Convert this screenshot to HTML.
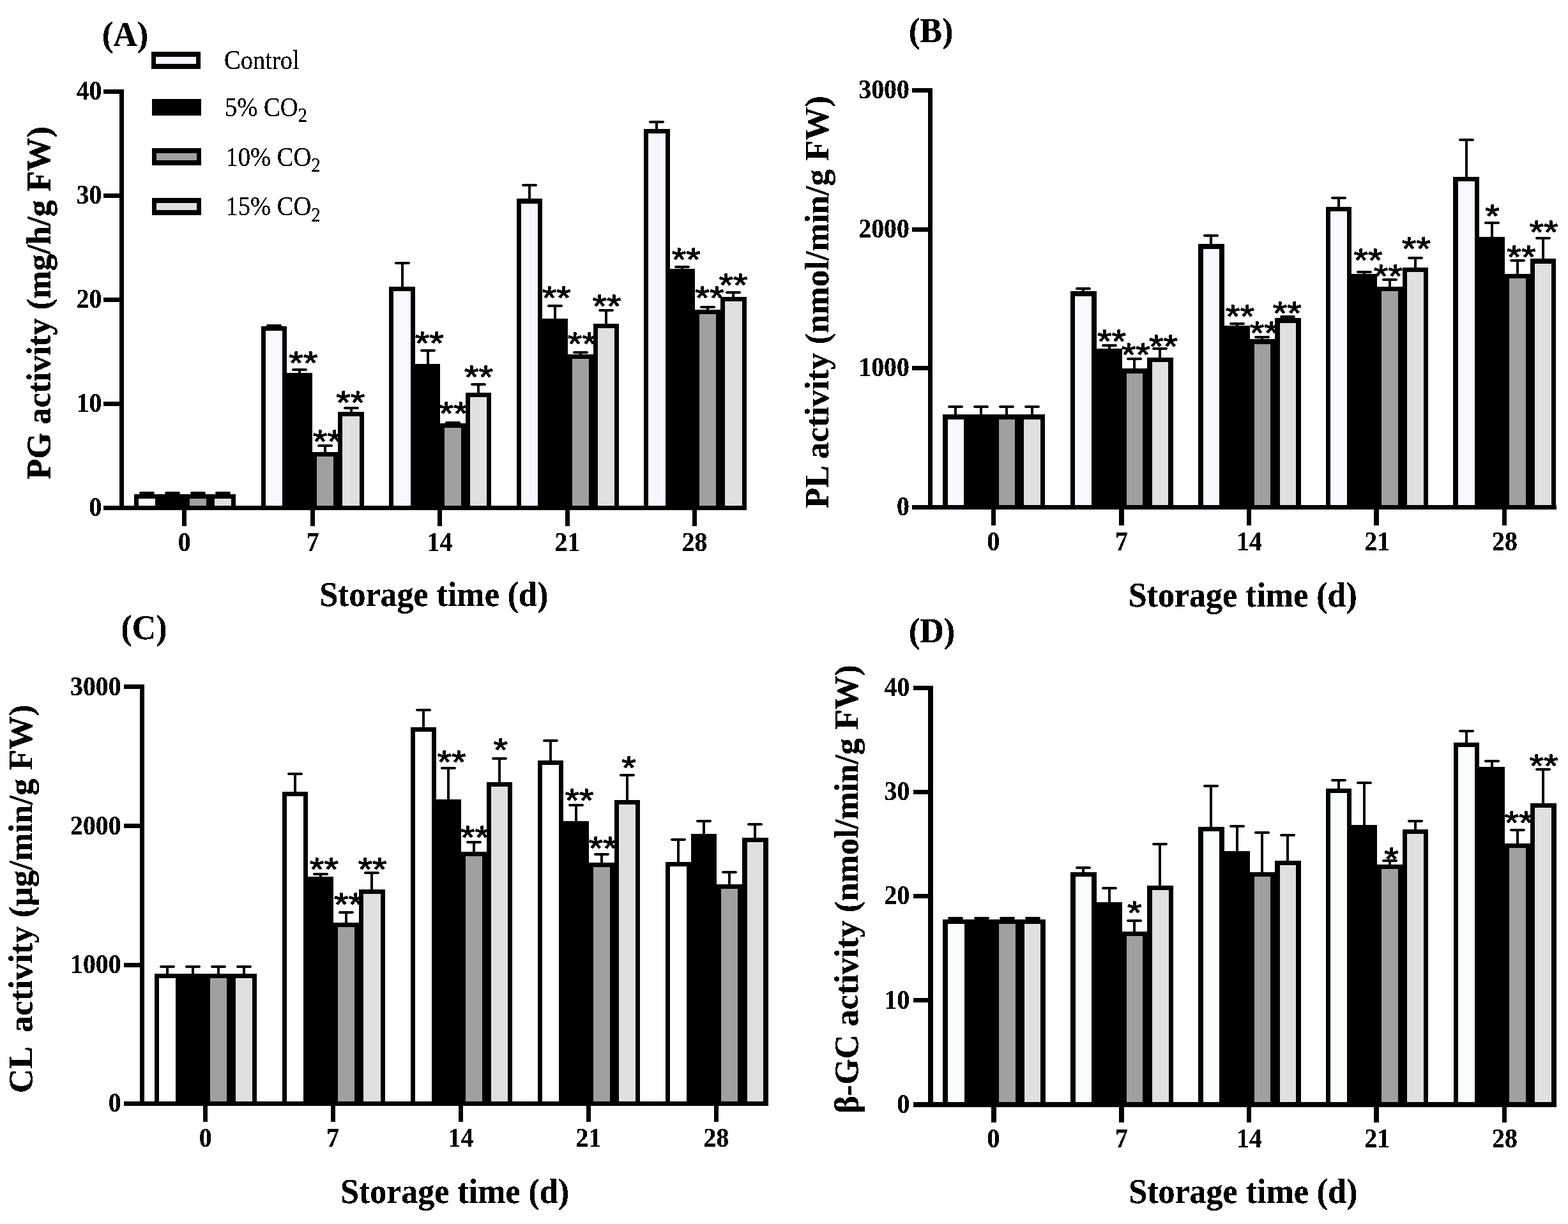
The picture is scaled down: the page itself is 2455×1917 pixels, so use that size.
<!DOCTYPE html>
<html lang="en"><head><meta charset="utf-8"><title>Enzyme activity during storage</title>
<style>html,body{margin:0;padding:0;background:#fff;}body{width:2455px;height:1917px;overflow:hidden;}svg{display:block;}.s{font-family:"Liberation Serif","Times New Roman",serif;font-weight:bold;fill:#000;}.r{font-family:"Liberation Serif","Times New Roman",serif;font-weight:normal;fill:#000;}.a{font-family:"Liberation Sans",Arial,sans-serif;fill:#000;}.c{shape-rendering:crispEdges;}</style></head><body>
<svg xmlns="http://www.w3.org/2000/svg" width="2455" height="1917" viewBox="0 0 2455 1917">
<defs><filter id="bw" filterUnits="userSpaceOnUse" x="0" y="0" width="2455" height="1917" color-interpolation-filters="sRGB"><feComponentTransfer><feFuncA type="discrete" tableValues="0 1 1"/></feComponentTransfer></filter></defs>
<rect x="0" y="0" width="2455" height="1917" fill="#fff"/>
<g id="panel-A">
<g class="a" filter="url(#bw)" font-size="58.0" stroke="#000" stroke-width="1.0" stroke-linejoin="round">
<text transform="translate(452.34,585.80) scale(1,0.877)">**</text>
<text transform="translate(489.84,709.40) scale(1,0.877)">**</text>
<text transform="translate(526.24,647.80) scale(1,0.877)">**</text>
<text transform="translate(649.74,555.20) scale(1,0.877)">**</text>
<text transform="translate(687.54,665.20) scale(1,0.877)">**</text>
<text transform="translate(726.94,608.00) scale(1,0.877)">**</text>
<text transform="translate(848.64,484.20) scale(1,0.877)">**</text>
<text transform="translate(888.84,555.80) scale(1,0.877)">**</text>
<text transform="translate(927.54,497.10) scale(1,0.877)">**</text>
<text transform="translate(1051.64,424.10) scale(1,0.877)">**</text>
<text transform="translate(1088.34,484.20) scale(1,0.877)">**</text>
<text transform="translate(1125.54,464.30) scale(1,0.877)">**</text>
</g>
<g filter="url(#bw)" stroke="#000" stroke-width="4.0" stroke-linecap="round" fill="none">
<path d="M220.3 772H239.7"/>
<path d="M260.3 772H279.7"/>
<path d="M300.3 772H319.7"/>
<path d="M339.3 772H358.7"/>
<path d="M419.3 510H438.7"/>
<path d="M459.3 579H478.7"/>
<path d="M499.3 698H518.7"/>
<path d="M540.3 639H559.7"/>
<path d="M620.3 412H639.7"/>
<path d="M660.3 549H679.7"/>
<path d="M699.3 662H718.7"/>
<path d="M739.3 602H758.7"/>
<path d="M819.3 290H838.7"/>
<path d="M859.3 479H878.7"/>
<path d="M899.3 552H918.7"/>
<path d="M939.3 486H958.7"/>
<path d="M1018.3 191H1037.7"/>
<path d="M1058.3 418H1077.7"/>
<path d="M1098.3 481H1117.7"/>
<path d="M1138.3 458H1157.7"/>
</g>
<g class="c" fill="#000"><rect x="228" y="772" width="4" height="3"/><rect x="268" y="772" width="4" height="3"/><rect x="308" y="772" width="4" height="3"/><rect x="347" y="772" width="4" height="3"/><rect x="467" y="579" width="4" height="6"/><rect x="507" y="698" width="4" height="11"/><rect x="548" y="639" width="4" height="7"/><rect x="628" y="412" width="4" height="38"/><rect x="668" y="549" width="4" height="22"/><rect x="707" y="662" width="4" height="2"/><rect x="747" y="602" width="4" height="14"/><rect x="827" y="290" width="4" height="22"/><rect x="867" y="479" width="4" height="21"/><rect x="907" y="552" width="4" height="4"/><rect x="947" y="486" width="4" height="22"/><rect x="1026" y="191" width="4" height="12"/><rect x="1066" y="418" width="4" height="4"/><rect x="1106" y="481" width="4" height="5"/><rect x="1146" y="458" width="4" height="8"/></g>
<g class="c">
<rect x="210" y="774" width="40" height="25" fill="#000"/>
<rect x="217" y="781" width="26" height="11" fill="#f8f8ff"/>
<rect x="250" y="774" width="40" height="25" fill="#000"/>
<rect x="290" y="774" width="40" height="25" fill="#000"/>
<rect x="297" y="781" width="26" height="11" fill="#a0a0a0"/>
<rect x="329" y="774" width="40" height="25" fill="#000"/>
<rect x="336" y="781" width="26" height="11" fill="#e0e0e0"/>
<rect x="409" y="511" width="40" height="288" fill="#000"/>
<rect x="416" y="518" width="26" height="274" fill="#f8f8ff"/>
<rect x="449" y="584" width="40" height="215" fill="#000"/>
<rect x="489" y="708" width="40" height="91" fill="#000"/>
<rect x="496" y="715" width="26" height="77" fill="#a0a0a0"/>
<rect x="529" y="645" width="41" height="154" fill="#000"/>
<rect x="536" y="652" width="27" height="140" fill="#e0e0e0"/>
<rect x="609" y="449" width="41" height="350" fill="#000"/>
<rect x="616" y="456" width="27" height="336" fill="#f8f8ff"/>
<rect x="650" y="570" width="39" height="229" fill="#000"/>
<rect x="689" y="663" width="40" height="136" fill="#000"/>
<rect x="696" y="670" width="26" height="122" fill="#a0a0a0"/>
<rect x="729" y="615" width="40" height="184" fill="#000"/>
<rect x="736" y="622" width="26" height="170" fill="#e0e0e0"/>
<rect x="809" y="311" width="40" height="488" fill="#000"/>
<rect x="816" y="319" width="26" height="473" fill="#f8f8ff"/>
<rect x="849" y="499" width="40" height="300" fill="#000"/>
<rect x="889" y="555" width="40" height="244" fill="#000"/>
<rect x="896" y="562" width="26" height="230" fill="#a0a0a0"/>
<rect x="929" y="507" width="40" height="292" fill="#000"/>
<rect x="936" y="514" width="26" height="278" fill="#e0e0e0"/>
<rect x="1008" y="202" width="41" height="597" fill="#000"/>
<rect x="1015" y="209" width="27" height="583" fill="#f8f8ff"/>
<rect x="1049" y="421" width="39" height="378" fill="#000"/>
<rect x="1088" y="485" width="40" height="314" fill="#000"/>
<rect x="1095" y="492" width="26" height="300" fill="#a0a0a0"/>
<rect x="1128" y="465" width="41" height="334" fill="#000"/>
<rect x="1135" y="472" width="27" height="320" fill="#e0e0e0"/>
</g>
<g class="c" fill="#000">
<rect x="187" y="140" width="7" height="659"/>
<rect x="162" y="792" width="1007" height="7"/>
<rect x="162" y="629" width="32" height="7"/>
<rect x="162" y="466" width="32" height="7"/>
<rect x="162" y="303" width="32" height="7"/>
<rect x="162" y="140" width="32" height="7"/>
<rect x="285" y="792" width="7" height="32"/>
<rect x="486" y="792" width="7" height="32"/>
<rect x="685" y="792" width="7" height="32"/>
<rect x="885" y="792" width="7" height="32"/>
<rect x="1084" y="792" width="7" height="32"/>
</g>
<g class="s" filter="url(#bw)" font-size="41">
<text transform="translate(159.40,808.20) scale(0.97,1.04)" text-anchor="end">0</text>
<text transform="translate(159.40,645.20) scale(0.97,1.04)" text-anchor="end">10</text>
<text transform="translate(159.40,482.10) scale(0.97,1.04)" text-anchor="end">20</text>
<text transform="translate(159.40,319.00) scale(0.97,1.04)" text-anchor="end">30</text>
<text transform="translate(159.40,156.15) scale(0.97,1.04)" text-anchor="end">40</text>
<text transform="translate(288.60,863.30) scale(0.97,1.04)" text-anchor="middle">0</text>
<text transform="translate(489.40,863.30) scale(0.97,1.04)" text-anchor="middle">7</text>
<text transform="translate(688.50,863.30) scale(0.97,1.04)" text-anchor="middle">14</text>
<text transform="translate(888.40,863.30) scale(0.97,1.04)" text-anchor="middle">21</text>
<text transform="translate(1087.60,863.30) scale(0.97,1.04)" text-anchor="middle">28</text>
</g>
<g class="s" filter="url(#bw)" font-size="52">
<text transform="translate(160.00,72.20) scale(1,1.05)">(A)</text>
<text transform="translate(500.20,948.80) scale(1,1.07)">Storage time (d)</text>
<text transform="translate(78.90,750.70) rotate(-90) scale(1.01,1.03)" xml:space="preserve">PG activity (mg/h/g FW)</text>
</g>
</g>
<g id="panel-B">
<g class="a" filter="url(#bw)" font-size="58.0" stroke="#000" stroke-width="1.0" stroke-linejoin="round">
<text transform="translate(1718.04,551.60) scale(1,0.877)">**</text>
<text transform="translate(1755.64,573.00) scale(1,0.877)">**</text>
<text transform="translate(1799.04,560.40) scale(1,0.877)">**</text>
<text transform="translate(1919.04,512.70) scale(1,0.877)">**</text>
<text transform="translate(1956.64,539.10) scale(1,0.877)">**</text>
<text transform="translate(1992.74,507.70) scale(1,0.877)">**</text>
<text transform="translate(2119.44,424.70) scale(1,0.877)">**</text>
<text transform="translate(2150.84,449.60) scale(1,0.877)">**</text>
<text transform="translate(2194.84,407.10) scale(1,0.877)">**</text>
<text transform="translate(2325.34,355.70) scale(1,0.877)">*</text>
<text transform="translate(2359.34,419.70) scale(1,0.877)">**</text>
<text transform="translate(2394.54,380.70) scale(1,0.877)">**</text>
</g>
<g filter="url(#bw)" stroke="#000" stroke-width="4.0" stroke-linecap="round" fill="none">
<path d="M1486.3 637H1505.7"/>
<path d="M1526.3 637H1545.7"/>
<path d="M1566.3 637H1585.7"/>
<path d="M1606.3 637H1625.7"/>
<path d="M1686.3 452H1705.7"/>
<path d="M1727.3 541H1746.7"/>
<path d="M1766.3 562H1785.7"/>
<path d="M1806.3 546H1825.7"/>
<path d="M1886.3 369H1905.7"/>
<path d="M1927.3 507H1946.7"/>
<path d="M1966.3 528H1985.7"/>
<path d="M2006.3 496H2025.7"/>
<path d="M2086.3 310H2105.7"/>
<path d="M2126.3 426H2145.7"/>
<path d="M2166.3 438H2185.7"/>
<path d="M2206.3 404H2225.7"/>
<path d="M2286.3 219H2305.7"/>
<path d="M2326.3 349H2345.7"/>
<path d="M2366.3 408H2385.7"/>
<path d="M2406.3 373H2425.7"/>
</g>
<g class="c" fill="#000"><rect x="1494" y="637" width="4" height="13"/><rect x="1534" y="637" width="4" height="13"/><rect x="1574" y="637" width="4" height="13"/><rect x="1614" y="637" width="4" height="13"/><rect x="1694" y="452" width="4" height="6"/><rect x="1735" y="541" width="4" height="6"/><rect x="1774" y="562" width="4" height="16"/><rect x="1814" y="546" width="4" height="15"/><rect x="1894" y="369" width="4" height="14"/><rect x="1935" y="507" width="4" height="4"/><rect x="1974" y="528" width="4" height="4"/><rect x="2014" y="496" width="4" height="3"/><rect x="2094" y="310" width="4" height="15"/><rect x="2134" y="426" width="4" height="4"/><rect x="2174" y="438" width="4" height="12"/><rect x="2214" y="404" width="4" height="16"/><rect x="2294" y="219" width="4" height="59"/><rect x="2334" y="349" width="4" height="23"/><rect x="2374" y="408" width="4" height="22"/><rect x="2414" y="373" width="4" height="33"/></g>
<g class="c">
<rect x="1476" y="649" width="40" height="149" fill="#000"/>
<rect x="1484" y="657" width="25" height="134" fill="#f8f8ff"/>
<rect x="1516" y="649" width="41" height="149" fill="#000"/>
<rect x="1557" y="649" width="39" height="149" fill="#000"/>
<rect x="1564" y="657" width="25" height="134" fill="#a0a0a0"/>
<rect x="1596" y="649" width="40" height="149" fill="#000"/>
<rect x="1603" y="657" width="26" height="134" fill="#e0e0e0"/>
<rect x="1676" y="456" width="41" height="342" fill="#000"/>
<rect x="1683" y="464" width="26" height="327" fill="#f8f8ff"/>
<rect x="1717" y="546" width="40" height="252" fill="#000"/>
<rect x="1757" y="577" width="39" height="221" fill="#000"/>
<rect x="1764" y="585" width="25" height="206" fill="#a0a0a0"/>
<rect x="1796" y="560" width="41" height="238" fill="#000"/>
<rect x="1804" y="567" width="25" height="224" fill="#e0e0e0"/>
<rect x="1876" y="382" width="41" height="416" fill="#000"/>
<rect x="1884" y="390" width="25" height="401" fill="#f8f8ff"/>
<rect x="1917" y="510" width="40" height="288" fill="#000"/>
<rect x="1957" y="531" width="39" height="267" fill="#000"/>
<rect x="1964" y="539" width="25" height="252" fill="#a0a0a0"/>
<rect x="1996" y="498" width="41" height="300" fill="#000"/>
<rect x="2004" y="506" width="25" height="285" fill="#e0e0e0"/>
<rect x="2076" y="324" width="40" height="474" fill="#000"/>
<rect x="2083" y="331" width="26" height="460" fill="#f8f8ff"/>
<rect x="2116" y="429" width="40" height="369" fill="#000"/>
<rect x="2156" y="449" width="40" height="349" fill="#000"/>
<rect x="2163" y="456" width="26" height="335" fill="#a0a0a0"/>
<rect x="2196" y="419" width="40" height="379" fill="#000"/>
<rect x="2203" y="426" width="26" height="365" fill="#e0e0e0"/>
<rect x="2275" y="277" width="41" height="521" fill="#000"/>
<rect x="2283" y="284" width="26" height="507" fill="#f8f8ff"/>
<rect x="2316" y="371" width="40" height="427" fill="#000"/>
<rect x="2356" y="429" width="40" height="369" fill="#000"/>
<rect x="2363" y="436" width="26" height="355" fill="#a0a0a0"/>
<rect x="2396" y="405" width="40" height="393" fill="#000"/>
<rect x="2403" y="413" width="26" height="378" fill="#e0e0e0"/>
</g>
<g class="c" fill="#000">
<rect x="1453" y="138" width="7" height="660"/>
<rect x="1428" y="791" width="1009" height="7"/>
<rect x="1428" y="573" width="32" height="7"/>
<rect x="1428" y="356" width="32" height="7"/>
<rect x="1428" y="138" width="32" height="7"/>
<rect x="1552" y="791" width="7" height="32"/>
<rect x="1752" y="791" width="8" height="32"/>
<rect x="1952" y="791" width="7" height="32"/>
<rect x="2151" y="791" width="8" height="32"/>
<rect x="2352" y="791" width="7" height="32"/>
</g>
<g class="s" filter="url(#bw)" font-size="41">
<text transform="translate(1423.80,807.20) scale(0.97,1.04)" text-anchor="end">0</text>
<text transform="translate(1423.80,589.30) scale(0.97,1.04)" text-anchor="end">1000</text>
<text transform="translate(1423.80,371.70) scale(0.97,1.04)" text-anchor="end">2000</text>
<text transform="translate(1423.80,154.10) scale(0.97,1.04)" text-anchor="end">3000</text>
<text transform="translate(1555.40,861.80) scale(0.97,1.04)" text-anchor="middle">0</text>
<text transform="translate(1756.00,861.80) scale(0.97,1.04)" text-anchor="middle">7</text>
<text transform="translate(1956.00,861.80) scale(0.97,1.04)" text-anchor="middle">14</text>
<text transform="translate(2156.20,861.80) scale(0.97,1.04)" text-anchor="middle">21</text>
<text transform="translate(2356.00,861.80) scale(0.97,1.04)" text-anchor="middle">28</text>
</g>
<g class="s" filter="url(#bw)" font-size="52">
<text transform="translate(1423.00,66.00) scale(1,1.05)">(B)</text>
<text transform="translate(1766.70,949.60) scale(1,1.07)">Storage time (d)</text>
<text transform="translate(1297.20,796.10) rotate(-90) scale(1.01,1.03)" xml:space="preserve">PL activity (nmol/min/g FW)</text>
</g>
</g>
<g id="panel-C">
<g class="a" filter="url(#bw)" font-size="58.0" stroke="#000" stroke-width="1.0" stroke-linejoin="round">
<text transform="translate(484.84,1379.10) scale(1,0.877)">**</text>
<text transform="translate(522.94,1433.60) scale(1,0.877)">**</text>
<text transform="translate(560.54,1379.10) scale(1,0.877)">**</text>
<text transform="translate(684.44,1210.90) scale(1,0.877)">**</text>
<text transform="translate(721.04,1328.50) scale(1,0.877)">**</text>
<text transform="translate(772.44,1191.80) scale(1,0.877)">*</text>
<text transform="translate(884.44,1271.30) scale(1,0.877)">**</text>
<text transform="translate(921.44,1345.50) scale(1,0.877)">**</text>
<text transform="translate(973.34,1220.00) scale(1,0.877)">*</text>
</g>
<g filter="url(#bw)" stroke="#000" stroke-width="4.0" stroke-linecap="round" fill="none">
<path d="M252.3 1514H271.7"/>
<path d="M292.3 1514H311.7"/>
<path d="M332.3 1514H351.7"/>
<path d="M372.3 1514H391.7"/>
<path d="M452.3 1212H471.7"/>
<path d="M492.3 1369H511.7"/>
<path d="M532.3 1429H551.7"/>
<path d="M572.3 1367H591.7"/>
<path d="M653.3 1112H672.7"/>
<path d="M692.3 1203H711.7"/>
<path d="M732.3 1319H751.7"/>
<path d="M772.3 1188H791.7"/>
<path d="M852.3 1160H871.7"/>
<path d="M892.3 1261H911.7"/>
<path d="M932.3 1338H951.7"/>
<path d="M972.3 1214H991.7"/>
<path d="M1052.3 1315H1071.7"/>
<path d="M1092.3 1286H1111.7"/>
<path d="M1132.3 1366H1151.7"/>
<path d="M1172.3 1291H1191.7"/>
</g>
<g class="c" fill="#000"><rect x="260" y="1514" width="4" height="12"/><rect x="300" y="1514" width="4" height="12"/><rect x="340" y="1514" width="4" height="12"/><rect x="380" y="1514" width="4" height="12"/><rect x="460" y="1212" width="4" height="29"/><rect x="500" y="1369" width="4" height="5"/><rect x="540" y="1429" width="4" height="17"/><rect x="580" y="1367" width="4" height="27"/><rect x="661" y="1112" width="4" height="28"/><rect x="700" y="1203" width="4" height="50"/><rect x="740" y="1319" width="4" height="16"/><rect x="780" y="1188" width="4" height="38"/><rect x="860" y="1160" width="4" height="32"/><rect x="900" y="1261" width="4" height="26"/><rect x="940" y="1338" width="4" height="14"/><rect x="980" y="1214" width="4" height="40"/><rect x="1060" y="1315" width="4" height="36"/><rect x="1100" y="1286" width="4" height="21"/><rect x="1140" y="1366" width="4" height="20"/><rect x="1180" y="1291" width="4" height="22"/></g>
<g class="c">
<rect x="242" y="1525" width="40" height="207" fill="#000"/>
<rect x="249" y="1532" width="26" height="193" fill="#ffffff"/>
<rect x="282" y="1525" width="40" height="207" fill="#000"/>
<rect x="322" y="1525" width="40" height="207" fill="#000"/>
<rect x="329" y="1532" width="26" height="193" fill="#a0a0a0"/>
<rect x="362" y="1525" width="40" height="207" fill="#000"/>
<rect x="369" y="1532" width="26" height="193" fill="#e0e0e0"/>
<rect x="442" y="1240" width="40" height="492" fill="#000"/>
<rect x="449" y="1247" width="26" height="478" fill="#ffffff"/>
<rect x="482" y="1373" width="40" height="359" fill="#000"/>
<rect x="522" y="1445" width="40" height="287" fill="#000"/>
<rect x="529" y="1452" width="26" height="273" fill="#a0a0a0"/>
<rect x="562" y="1393" width="41" height="339" fill="#000"/>
<rect x="569" y="1400" width="27" height="325" fill="#e0e0e0"/>
<rect x="643" y="1139" width="40" height="593" fill="#000"/>
<rect x="650" y="1146" width="26" height="579" fill="#ffffff"/>
<rect x="683" y="1252" width="39" height="480" fill="#000"/>
<rect x="722" y="1334" width="40" height="398" fill="#000"/>
<rect x="729" y="1341" width="26" height="384" fill="#a0a0a0"/>
<rect x="762" y="1225" width="40" height="507" fill="#000"/>
<rect x="769" y="1232" width="26" height="493" fill="#e0e0e0"/>
<rect x="842" y="1191" width="40" height="541" fill="#000"/>
<rect x="849" y="1198" width="26" height="527" fill="#ffffff"/>
<rect x="882" y="1286" width="40" height="446" fill="#000"/>
<rect x="922" y="1351" width="40" height="381" fill="#000"/>
<rect x="929" y="1358" width="26" height="367" fill="#a0a0a0"/>
<rect x="962" y="1253" width="40" height="479" fill="#000"/>
<rect x="969" y="1260" width="26" height="465" fill="#e0e0e0"/>
<rect x="1042" y="1350" width="40" height="382" fill="#000"/>
<rect x="1049" y="1357" width="26" height="368" fill="#ffffff"/>
<rect x="1082" y="1306" width="40" height="426" fill="#000"/>
<rect x="1122" y="1385" width="40" height="347" fill="#000"/>
<rect x="1129" y="1392" width="26" height="333" fill="#a0a0a0"/>
<rect x="1162" y="1312" width="41" height="420" fill="#000"/>
<rect x="1170" y="1319" width="25" height="406" fill="#e0e0e0"/>
</g>
<g class="c" fill="#000">
<rect x="219" y="1072" width="7" height="660"/>
<rect x="194" y="1725" width="1009" height="7"/>
<rect x="194" y="1508" width="32" height="7"/>
<rect x="194" y="1290" width="32" height="7"/>
<rect x="194" y="1072" width="32" height="7"/>
<rect x="318" y="1725" width="7" height="32"/>
<rect x="518" y="1725" width="7" height="32"/>
<rect x="718" y="1725" width="7" height="32"/>
<rect x="918" y="1725" width="7" height="32"/>
<rect x="1118" y="1725" width="7" height="32"/>
</g>
<g class="s" filter="url(#bw)" font-size="41">
<text transform="translate(189.60,1741.20) scale(0.97,1.04)" text-anchor="end">0</text>
<text transform="translate(189.60,1523.90) scale(0.97,1.04)" text-anchor="end">1000</text>
<text transform="translate(189.60,1306.50) scale(0.97,1.04)" text-anchor="end">2000</text>
<text transform="translate(189.60,1088.50) scale(0.97,1.04)" text-anchor="end">3000</text>
<text transform="translate(321.70,1796.00) scale(0.97,1.04)" text-anchor="middle">0</text>
<text transform="translate(521.30,1796.00) scale(0.97,1.04)" text-anchor="middle">7</text>
<text transform="translate(721.50,1796.00) scale(0.97,1.04)" text-anchor="middle">14</text>
<text transform="translate(921.50,1796.00) scale(0.97,1.04)" text-anchor="middle">21</text>
<text transform="translate(1121.50,1796.00) scale(0.97,1.04)" text-anchor="middle">28</text>
</g>
<g class="s" filter="url(#bw)" font-size="52">
<text transform="translate(189.50,1001.30) scale(1,1.05)">(C)</text>
<text transform="translate(533.00,1883.80) scale(1,1.07)">Storage time (d)</text>
<text transform="translate(50.70,1712.10) rotate(-90) scale(1.0135,1.03)" xml:space="preserve">CL <tspan dx="-4.6"> </tspan>activity (µg/min/g FW)</text>
</g>
</g>
<g id="panel-D">
<g class="a" filter="url(#bw)" font-size="58.0" stroke="#000" stroke-width="1.0" stroke-linejoin="round">
<text transform="translate(1765.04,1446.70) scale(1,0.877)">*</text>
<text transform="translate(2167.24,1362.80) scale(1,0.877)">*</text>
<text transform="translate(2355.54,1305.60) scale(1,0.877)">**</text>
<text transform="translate(2394.54,1216.70) scale(1,0.877)">**</text>
</g>
<g filter="url(#bw)" stroke="#000" stroke-width="4.0" stroke-linecap="round" fill="none">
<path d="M1486.3 1438H1505.7"/>
<path d="M1527.3 1438H1546.7"/>
<path d="M1567.3 1438H1586.7"/>
<path d="M1607.3 1438H1626.7"/>
<path d="M1686.3 1359H1705.7"/>
<path d="M1727.3 1391H1746.7"/>
<path d="M1766.3 1442H1785.7"/>
<path d="M1806.3 1322H1825.7"/>
<path d="M1886.3 1231H1905.7"/>
<path d="M1927.3 1294H1946.7"/>
<path d="M1966.3 1304H1985.7"/>
<path d="M2006.3 1308H2025.7"/>
<path d="M2086.3 1222H2105.7"/>
<path d="M2126.3 1226H2145.7"/>
<path d="M2166.3 1348H2185.7"/>
<path d="M2206.3 1286H2225.7"/>
<path d="M2286.3 1145H2305.7"/>
<path d="M2326.3 1192H2345.7"/>
<path d="M2366.3 1300H2385.7"/>
<path d="M2406.3 1205H2425.7"/>
</g>
<g class="c" fill="#000"><rect x="1494" y="1438" width="4" height="3"/><rect x="1535" y="1438" width="4" height="3"/><rect x="1575" y="1438" width="4" height="3"/><rect x="1615" y="1438" width="4" height="3"/><rect x="1694" y="1359" width="4" height="8"/><rect x="1735" y="1391" width="4" height="23"/><rect x="1774" y="1442" width="4" height="18"/><rect x="1814" y="1322" width="4" height="66"/><rect x="1894" y="1231" width="4" height="65"/><rect x="1935" y="1294" width="4" height="40"/><rect x="1974" y="1304" width="4" height="63"/><rect x="2014" y="1308" width="4" height="41"/><rect x="2094" y="1222" width="4" height="14"/><rect x="2134" y="1226" width="4" height="67"/><rect x="2174" y="1348" width="4" height="7"/><rect x="2214" y="1286" width="4" height="14"/><rect x="2294" y="1145" width="4" height="19"/><rect x="2334" y="1192" width="4" height="10"/><rect x="2374" y="1300" width="4" height="22"/><rect x="2414" y="1205" width="4" height="54"/></g>
<g class="c">
<rect x="1476" y="1440" width="41" height="294" fill="#000"/>
<rect x="1484" y="1447" width="26" height="279" fill="#fafdfd"/>
<rect x="1517" y="1440" width="40" height="294" fill="#000"/>
<rect x="1557" y="1440" width="40" height="294" fill="#000"/>
<rect x="1564" y="1447" width="26" height="279" fill="#a0a0a0"/>
<rect x="1597" y="1440" width="40" height="294" fill="#000"/>
<rect x="1604" y="1447" width="25" height="279" fill="#e0e0e0"/>
<rect x="1676" y="1366" width="41" height="368" fill="#000"/>
<rect x="1684" y="1373" width="25" height="353" fill="#fafdfd"/>
<rect x="1717" y="1413" width="40" height="321" fill="#000"/>
<rect x="1757" y="1459" width="39" height="275" fill="#000"/>
<rect x="1764" y="1466" width="25" height="260" fill="#a0a0a0"/>
<rect x="1796" y="1387" width="41" height="347" fill="#000"/>
<rect x="1804" y="1394" width="26" height="332" fill="#e0e0e0"/>
<rect x="1876" y="1295" width="41" height="439" fill="#000"/>
<rect x="1884" y="1302" width="25" height="424" fill="#fafdfd"/>
<rect x="1917" y="1333" width="40" height="401" fill="#000"/>
<rect x="1957" y="1366" width="39" height="368" fill="#000"/>
<rect x="1964" y="1373" width="25" height="353" fill="#a0a0a0"/>
<rect x="1996" y="1348" width="41" height="386" fill="#000"/>
<rect x="2004" y="1355" width="25" height="371" fill="#e0e0e0"/>
<rect x="2076" y="1235" width="40" height="499" fill="#000"/>
<rect x="2083" y="1242" width="26" height="484" fill="#fafdfd"/>
<rect x="2116" y="1292" width="40" height="442" fill="#000"/>
<rect x="2156" y="1354" width="40" height="380" fill="#000"/>
<rect x="2163" y="1361" width="26" height="365" fill="#a0a0a0"/>
<rect x="2196" y="1299" width="40" height="435" fill="#000"/>
<rect x="2203" y="1306" width="26" height="420" fill="#e0e0e0"/>
<rect x="2276" y="1163" width="40" height="571" fill="#000"/>
<rect x="2283" y="1170" width="26" height="556" fill="#fafdfd"/>
<rect x="2316" y="1201" width="40" height="533" fill="#000"/>
<rect x="2356" y="1321" width="40" height="413" fill="#000"/>
<rect x="2363" y="1328" width="26" height="398" fill="#a0a0a0"/>
<rect x="2396" y="1258" width="41" height="476" fill="#000"/>
<rect x="2403" y="1265" width="26" height="461" fill="#e0e0e0"/>
</g>
<g class="c" fill="#000">
<rect x="1453" y="1074" width="8" height="660"/>
<rect x="1430" y="1726" width="1007" height="8"/>
<rect x="1430" y="1563" width="31" height="7"/>
<rect x="1430" y="1400" width="31" height="7"/>
<rect x="1430" y="1237" width="31" height="7"/>
<rect x="1430" y="1074" width="31" height="7"/>
<rect x="1552" y="1726" width="8" height="32"/>
<rect x="1752" y="1726" width="8" height="32"/>
<rect x="1952" y="1726" width="7" height="32"/>
<rect x="2151" y="1726" width="8" height="32"/>
<rect x="2352" y="1726" width="7" height="32"/>
</g>
<g class="s" filter="url(#bw)" font-size="41">
<text transform="translate(1424.30,1742.60) scale(0.97,1.04)" text-anchor="end">0</text>
<text transform="translate(1424.30,1579.50) scale(0.97,1.04)" text-anchor="end">10</text>
<text transform="translate(1424.30,1416.10) scale(0.97,1.04)" text-anchor="end">20</text>
<text transform="translate(1424.30,1253.10) scale(0.97,1.04)" text-anchor="end">30</text>
<text transform="translate(1424.30,1090.00) scale(0.97,1.04)" text-anchor="end">40</text>
<text transform="translate(1555.50,1797.40) scale(0.97,1.04)" text-anchor="middle">0</text>
<text transform="translate(1756.00,1797.40) scale(0.97,1.04)" text-anchor="middle">7</text>
<text transform="translate(1956.00,1797.40) scale(0.97,1.04)" text-anchor="middle">14</text>
<text transform="translate(2156.20,1797.40) scale(0.97,1.04)" text-anchor="middle">21</text>
<text transform="translate(2356.00,1797.40) scale(0.97,1.04)" text-anchor="middle">28</text>
</g>
<g class="s" filter="url(#bw)" font-size="52">
<text transform="translate(1423.00,1005.70) scale(1,1.05)">(D)</text>
<text transform="translate(1767.30,1884.20) scale(1,1.07)">Storage time (d)</text>
<text transform="translate(1343.60,1743.70) rotate(-90) scale(1.005,1.03)" xml:space="preserve">β-GC activity (nmol/min/g FW)</text>
</g>
</g>
<g id="legend" filter="url(#bw)">
<g class="c"><rect x="237" y="81" width="77" height="27" fill="#000"/><rect x="244" y="89" width="63" height="11" fill="#f8f8ff"/></g>
<text class="r" transform="translate(351.00,108.00) scale(0.917,1)" font-size="42">Control</text>
<g class="c"><rect x="238" y="155" width="77" height="26" fill="#000"/></g>
<text class="r" transform="translate(352.00,181.60) scale(0.917,1)" font-size="42">5% CO<tspan font-size="31.9" dy="9.7">2</tspan></text>
<g class="c"><rect x="238" y="232" width="77" height="27" fill="#000"/><rect x="245" y="240" width="63" height="11" fill="#a0a0a0"/></g>
<text class="r" transform="translate(353.50,259.60) scale(0.917,1)" font-size="42">10% CO<tspan font-size="31.9" dy="9.7">2</tspan></text>
<g class="c"><rect x="238" y="310" width="77" height="27" fill="#000"/><rect x="245" y="318" width="63" height="11" fill="#e0e0e0"/></g>
<text class="r" transform="translate(353.50,337.40) scale(0.917,1)" font-size="42">15% CO<tspan font-size="31.9" dy="9.7">2</tspan></text>
</g>
</svg></body></html>
